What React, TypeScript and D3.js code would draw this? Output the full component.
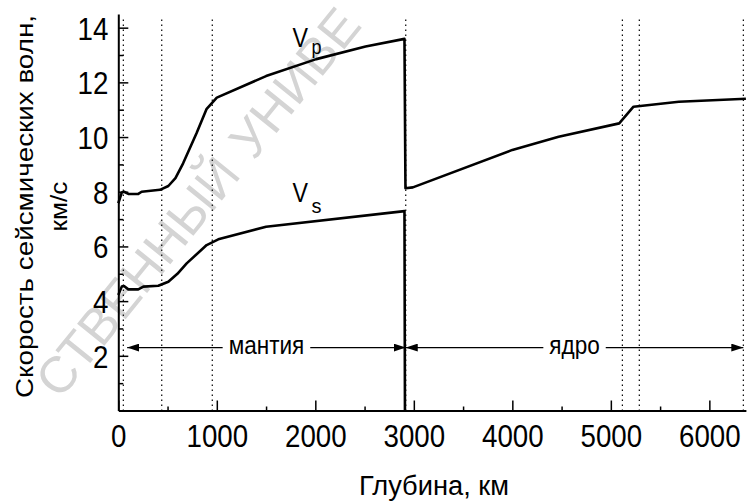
import { useEffect, useRef } from "react";
import * as d3 from "d3";

// глубина (км) и скорости (км/с)
const vpDepth = [0, 35, 58, 102, 203, 237, 423, 508, 580, 658, 794, 895, 1000, 1500, 2010, 2510, 2905, 2915, 2990, 4000, 4470, 5085, 5230, 5690, 6371];
const vpValues = [7.58, 7.97, 8.0, 7.92, 7.92, 8.0, 8.07, 8.21, 8.5, 9.04, 10.14, 11.02, 11.44, 12.23, 12.85, 13.31, 13.59, 8.13, 8.16, 9.53, 10.01, 10.5, 11.11, 11.29, 11.4];
const vsDepth = [0, 35, 58, 102, 203, 254, 406, 508, 600, 694, 897, 1015, 1500, 2905, 2910];
const vsValues = [4.22, 4.53, 4.55, 4.43, 4.43, 4.53, 4.56, 4.71, 5.0, 5.38, 6.05, 6.26, 6.72, 7.29, 0];

const boundaries = [51, 441, 954, 2918, 5117, 5289, 6345];
const xTicks = [0, 1000, 2000, 3000, 4000, 5000, 6000];
const xMinor = [500, 1500, 2500, 3500, 4500, 5500];
const yTicks = [2, 4, 6, 8, 10, 12, 14];
const yMinor = [1, 3, 5, 7, 9, 11, 13];

const zoneNames = ["мантия", "ядро"];
const zoneFrom = [90, 2918];
const zoneTo = [2918, 6345];
const zoneLevel = 2.3;

const font = "'Liberation Sans', Arial, sans-serif";

// узкий шрифт имитируем сжатием по ширине
const squeeze = (sel: any, perChar: number) =>
    sel.each(function (this: SVGTextElement) {
        const n = (this.textContent || '').length;
        d3.select(this).attr('textLength', n * perChar).attr('lengthAdjust', 'spacingAndGlyphs');
    });

const App = () => {
    const svgRef = useRef(null);
    useEffect(() => {
        const svg = d3.select(svgRef.current);
        const x = d3.scaleLinear().domain([0, 6371]).range([118.3, 745.9]);
        const y = d3.scaleLinear().domain([0, 14.5]).range([410.5, 14]);

        // водяной знак
        const wm = svg.append('g').attr('transform', 'translate(234,157) rotate(-51)')
            .attr('font-family', font).attr('font-size', 51).attr('fill', '#d4d4d4');
        wm.append('text').attr('x', -9).attr('y', 18).attr('text-anchor', 'end').text('СТВЕННЫЙ');
        wm.append('text').attr('x', 9).attr('y', 18).attr('text-anchor', 'start').text('УНИВЕ');

        // пунктирные границы
        svg.append('g').selectAll('line').data(boundaries).join('line')
            .attr('x1', d => x(d)).attr('x2', d => x(d))
            .attr('y1', y(14.3)).attr('y2', y(0))
            .attr('stroke', '#000').attr('stroke-width', 1.2).attr('stroke-dasharray', '1.5,3.5');

        // оси
        const xAxis = svg.append('g').attr('transform', `translate(0,${y(0)})`)
            .call(d3.axisBottom(x).tickValues(xTicks).tickFormat(d3.format('d')).tickSize(-10).tickSizeOuter(0));
        svg.append('g').attr('transform', `translate(0,${y(0)})`)
            .call(d3.axisBottom(x).tickValues(xMinor).tickSize(-4).tickSizeOuter(0).tickFormat(() => ''))
            .select('.domain').remove();
        const yAxis = svg.append('g').attr('transform', `translate(${x(0)},0)`)
            .call(d3.axisLeft(y).tickValues(yTicks).tickSize(-10).tickSizeOuter(0).tickPadding(10));
        svg.append('g').attr('transform', `translate(${x(0)},0)`)
            .call(d3.axisLeft(y).tickValues(yMinor).tickSize(-5).tickSizeOuter(0).tickFormat(() => ''))
            .select('.domain').remove();

        svg.selectAll('.domain').attr('stroke-width', 2);
        svg.selectAll('.tick line').attr('stroke-width', 1.5);
        const xl = xAxis.selectAll('text').attr('font-family', font).attr('font-size', 32).attr('fill', '#000')
            .attr('dy', null).attr('y', 36);
        squeeze(xl, 15.4);
        const yl = yAxis.selectAll('text').attr('font-family', font).attr('font-size', 32).attr('fill', '#000')
            .attr('dy', '0.36em');
        squeeze(yl, 15.4);

        // кривые
        const drawCurve = (depths: number[], values: number[]) => {
            const gen = d3.line<number>().x(d => x(depths[d])).y(d => y(values[d]));
            svg.append('path').attr('d', gen(d3.range(depths.length)))
                .attr('fill', 'none').attr('stroke', '#000').attr('stroke-width', 2.6)
                .attr('stroke-linejoin', 'round');
        };
        drawCurve(vpDepth, vpValues);
        drawCurve(vsDepth, vsValues);

        // подписи кривых
        const lab = (tx: number, ty: number, sub: string, subDy: number) => {
            svg.append('text').attr('x', tx).attr('y', ty).attr('font-family', font).attr('font-size', 28)
                .attr('textLength', 15.5).attr('lengthAdjust', 'spacingAndGlyphs').text('V');
            svg.append('text').attr('x', tx + 19).attr('y', ty + subDy).attr('font-family', font).attr('font-size', 21)
                .attr('textLength', 10).attr('lengthAdjust', 'spacingAndGlyphs').text(sub);
        };
        lab(292.5, 46.7, 'p', 7);
        lab(292.5, 201.7, 's', 11);

        // стрелки зон
        const defs = svg.append('defs');
        defs.append('marker').attr('id', 'ah').attr('viewBox', '0 0 12 8').attr('refX', 12).attr('refY', 4)
            .attr('markerWidth', 12).attr('markerHeight', 8).attr('markerUnits', 'userSpaceOnUse')
            .attr('orient', 'auto-start-reverse')
            .append('path').attr('d', 'M0,0L12,4L0,8Z').attr('fill', '#000');
        const ay = y(zoneLevel);
        zoneNames.forEach((name, i) => {
            const x0 = x(zoneFrom[i]), x1 = x(zoneTo[i]);
            const cx = (x0 + x1) / 2;
            const t = svg.append('text').attr('x', cx).attr('y', ay + 6.5).attr('text-anchor', 'middle')
                .attr('font-family', font).attr('font-size', 25).text(name);
            squeeze(t, 12.6);
            const hw = name.length * 12.6 / 2 + 6;
            svg.append('line').attr('x1', cx - hw).attr('x2', x0).attr('y1', ay).attr('y2', ay)
                .attr('stroke', '#000').attr('stroke-width', 1.3).attr('marker-end', 'url(#ah)');
            svg.append('line').attr('x1', cx + hw).attr('x2', x1).attr('y1', ay).attr('y2', ay)
                .attr('stroke', '#000').attr('stroke-width', 1.3).attr('marker-end', 'url(#ah)');
        });

        // заголовки осей
        svg.append('text').attr('x', 434).attr('y', 495).attr('text-anchor', 'middle')
            .attr('font-family', font).attr('font-size', 27)
            .attr('textLength', 150).attr('lengthAdjust', 'spacingAndGlyphs').text('Глубина, км');
        const yt = svg.append('g').attr('transform', 'translate(0,206.5) rotate(-90)')
            .attr('font-family', font).attr('font-size', 24).attr('text-anchor', 'middle');
        yt.append('text').attr('x', 0).attr('y', 33.3)
            .attr('textLength', 383).attr('lengthAdjust', 'spacingAndGlyphs').text('Скорость сейсмических волн,');
        yt.append('text').attr('x', 0).attr('y', 66.7)
            .attr('textLength', 50).attr('lengthAdjust', 'spacingAndGlyphs').text('км/с');

        return () => {
            svg.selectAll('*').remove();
        };
    }, []);
    return (
        <svg ref={svgRef} width={747} height={502} style={{ position: 'absolute', left: 0, top: 0, background: '#fff' }}></svg>
    );
};

export default App;
